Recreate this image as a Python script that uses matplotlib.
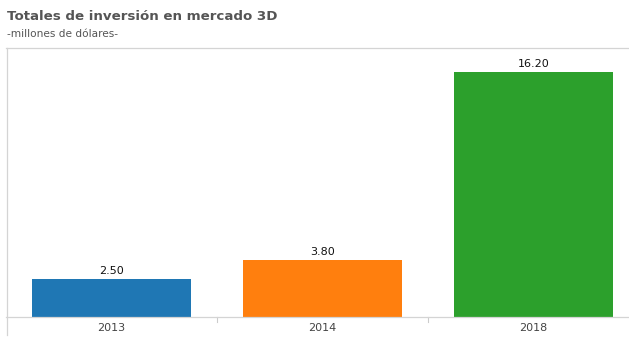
import matplotlib.pyplot as plt
from matplotlib.lines import Line2D

years = ["2013", "2014", "2018"]
totals = [2.50, 3.80, 16.20]
colors = ["#1f77b4", "#ff7f0e", "#2ca02c"]

W, H = 629, 345
fig = plt.figure(figsize=(W / 100, H / 100), dpi=100)

# plot area in pixels: left 6, baseline 317, top 48, right edge of image
ax = fig.add_axes([6 / W, 1 - 317 / H, (629 - 6) / W, (317 - 48) / H])
x = range(len(years))
bars = ax.bar(x, totals, width=0.755, color=colors)
for b, v in zip(bars, totals):
    ax.text(b.get_x() + b.get_width() / 2, v + 0.2, f"{v:.2f}",
            ha="center", va="bottom", fontsize=8, color="#111111")

ax.set_xlim(-0.5, -0.5 + (629 - 6) / 211)
ax.set_ylim(0, 17.8)
ax.set_yticks([])
ax.set_xticks(list(x))
ax.set_xticklabels(years, fontsize=8, color="#444444")
ax.tick_params(axis="x", length=0, pad=4)
# small separators between categories
for s in [0.5, 1.5]:
    ax.plot([s, s], [0, -0.35], color="#cccccc", lw=0.8, clip_on=False)

ax.spines["right"].set_visible(False)
for side in ["top", "bottom"]:
    ax.spines[side].set_color("#d4d4d4")
    ax.spines[side].set_linewidth(0.9)
ax.spines["left"].set_visible(False)
fig.add_artist(Line2D([7 / W, 7 / W], [1 - 48 / H, 1 - 335 / H],
                      color="#d4d4d4", lw=0.9))

fig.text(7 / W, 1 - 17 / H, "Totales de inversión en mercado 3D",
         fontsize=9.6, fontweight="bold", color="#555555", va="center")
fig.text(7 / W, 1 - 34 / H, "-millones de dólares-",
         fontsize=7.6, color="#555555", va="center")

fig.savefig("out.png", dpi=100)
